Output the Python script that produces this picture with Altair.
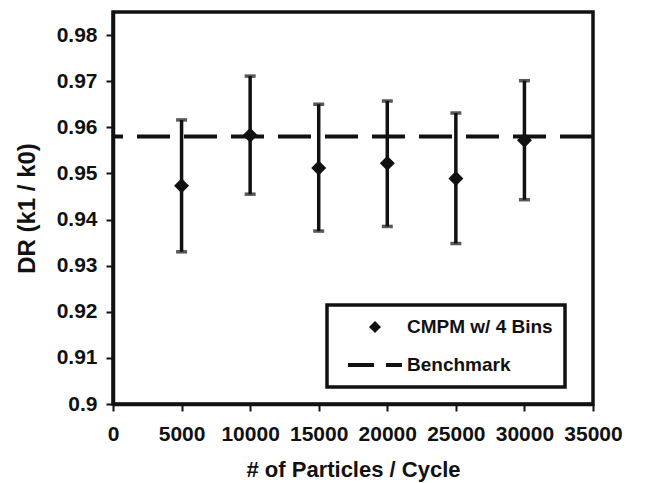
import altair as alt
import pandas as pd

particles = [5000, 10000, 15000, 20000, 25000, 30000]
dr_mean = [0.9473, 0.9583, 0.9512, 0.9522, 0.9489, 0.9572]
dr_low = [0.9330, 0.9455, 0.9375, 0.9385, 0.9348, 0.9443]
dr_high = [0.9616, 0.9711, 0.9650, 0.9657, 0.9631, 0.9701]
benchmark = 0.958
series_names = ["CMPM w/ 4 Bins", "Benchmark"]
x_ticks = [0, 5000, 10000, 15000, 20000, 25000, 30000, 35000]
y_ticks = [0.9, 0.91, 0.92, 0.93, 0.94, 0.95, 0.96, 0.97, 0.98]

df = pd.DataFrame({"n": particles, "dr": dr_mean, "lo": dr_low, "hi": dr_high,
                   "series": [series_names[0]] * len(particles)})
bench_df = pd.DataFrame({"b": [benchmark]})

FONT = "Liberation Sans"
INK = "#111111"
xs = alt.Scale(domain=[0, 35000], nice=False, zero=False)
ys = alt.Scale(domain=[0.9, 0.985], nice=False, zero=False)

x_enc = alt.X("n:Q", scale=xs, axis=alt.Axis(values=x_ticks, format="d", title="# of Particles / Cycle",
                                               grid=False, labelPadding=12, titlePadding=15,
                                               labelFlush=False, titleFontSize=22))
y_enc = alt.Y("dr:Q", scale=ys, axis=alt.Axis(values=y_ticks, format=".2~f", title="DR (k1 / k0)",
                                                grid=False, labelPadding=9, titlePadding=17,
                                                titleFontSize=24))

bench = alt.Chart(bench_df).mark_rule(color=INK, strokeWidth=4, strokeDash=[33, 14]).encode(
    y=alt.Y("b:Q", scale=ys)
)

bars = alt.Chart(df).mark_rule(color=INK, strokeWidth=3.5).encode(
    x=x_enc, y=alt.Y("lo:Q", scale=ys), y2="hi:Q"
)
cap_lo = alt.Chart(df).mark_tick(color=INK, thickness=3.5, size=11, orient="horizontal").encode(
    x=alt.X("n:Q", scale=xs), y=alt.Y("lo:Q", scale=ys)
)
cap_hi = alt.Chart(df).mark_tick(color=INK, thickness=3.5, size=11, orient="horizontal").encode(
    x=alt.X("n:Q", scale=xs), y=alt.Y("hi:Q", scale=ys)
)

# symbol paths (unit space, scaled by sqrt(size)/2)
diamond_path = "M-0.6,0L0,-0.6L0.6,0L0,0.6Z"
dash_path = "M-2.7,-0.2H-0.1V0.2H-2.7Z M1.1,-0.2H2.7V0.2H1.1Z"

points = alt.Chart(df).mark_point(filled=True, color=INK, size=625, opacity=1, strokeWidth=0).encode(
    x=alt.X("n:Q", scale=xs), y=y_enc,
    shape=alt.Shape("series:N", scale=alt.Scale(domain=series_names, range=[diamond_path, dash_path]),
                    legend=alt.Legend(title=None, orient="none", legendX=214, legendY=293,
                                      strokeColor=INK, fillColor="white",
                                      padding=12, rowPadding=18, labelOffset=22, symbolOffset=26,
                                      symbolSize=400, symbolFillColor=INK,
                                      symbolStrokeWidth=0,
                                      labelFont=FONT, labelFontSize=19, labelFontWeight="bold",
                                      labelColor=INK, labelLimit=300, symbolOpacity=1))
)

chart = alt.layer(bench, bars, cap_lo, cap_hi, points).properties(
    width=480, height=392,
    autosize=alt.AutoSizeParams(type="none"),
    padding={"left": 113, "top": 12, "right": 62, "bottom": 79},
    background="white",
).configure_view(
    stroke=INK, strokeWidth=3.5
).configure_legend(
    strokeWidth=3.5
).configure_axis(
    domainColor=INK, domainWidth=3.5, tickColor=INK, tickWidth=2, tickSize=7,
    labelFont=FONT, labelFontSize=21, labelFontWeight="bold", labelColor=INK,
    titleFont=FONT, titleFontWeight="bold", titleColor=INK,
)

chart.save("out.html", embed_options={"renderer": "svg", "actions": False})
